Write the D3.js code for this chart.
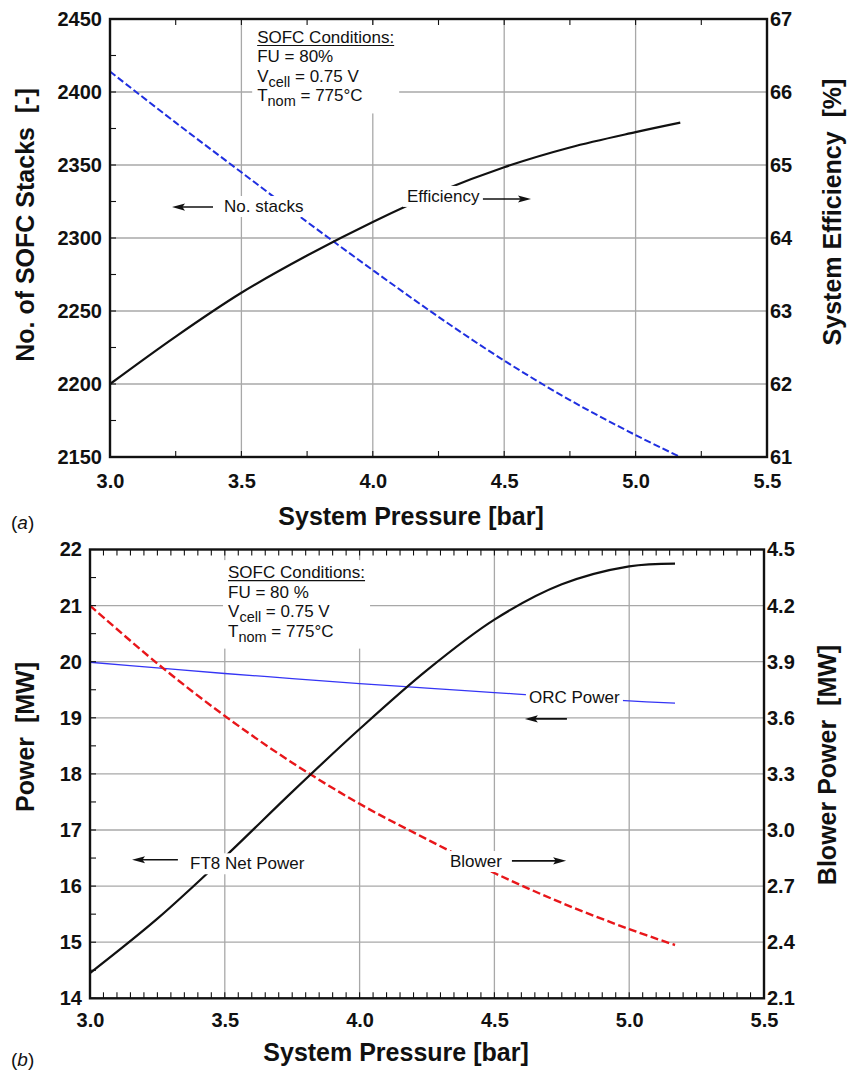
<!DOCTYPE html>
<html>
<head>
<meta charset="utf-8">
<script src="https://cdn.jsdelivr.net/npm/d3@7"></script>
<style>
  body { margin: 0; background: #fff; }
  svg { display: block; font-family: "Liberation Sans", Arial, Helvetica, sans-serif; }
</style>
</head>
<body>
<script>
// System pressure sweep [bar]
const pressure = [3.0, 3.25, 3.5, 3.75, 4.0, 4.25, 4.5, 4.75, 5.0, 5.17];

// (a) number of SOFC stacks [-] and system efficiency [%]
const stacks = [2414, 2379, 2345, 2311, 2278, 2246, 2216, 2189, 2165, 2150];
const efficiency = [62.0, 62.65, 63.25, 63.76, 64.22, 64.63, 64.97, 65.24, 65.45, 65.58];

// (b) FT8 net power and ORC power [MW] (left axis), blower power [MW] (right axis)
const ft8Power = [14.45, 15.42, 16.52, 17.68, 18.8, 19.85, 20.75, 21.38, 21.7, 21.75];
const orcPower = [19.99, 19.89, 19.79, 19.7, 19.61, 19.53, 19.45, 19.37, 19.3, 19.26];
const blowerPower = [4.2, 3.89, 3.61, 3.36, 3.14, 2.95, 2.77, 2.61, 2.47, 2.385];

// Tick labels
const pressureTicks = ["3.0", "3.5", "4.0", "4.5", "5.0", "5.5"];
const stackTicks = ["2150", "2200", "2250", "2300", "2350", "2400", "2450"];
const efficiencyTicks = ["61", "62", "63", "64", "65", "66", "67"];
const powerTicks = ["14", "15", "16", "17", "18", "19", "20", "21", "22"];
const blowerTicks = ["2.1", "2.4", "2.7", "3.0", "3.3", "3.6", "3.9", "4.2", "4.5"];

const W = 849, H = 1072;
const svg = d3.select("body").append("svg").attr("width", W).attr("height", H);

const GRID = "#a8a8a8";
const INK = "#111";

function arrow(g, x1, x2, y) {
  // shaft from x1 to the tip at x2
  const dir = Math.sign(x2 - x1);
  const head = 13, half = 3.6;
  g.append("line")
    .attr("x1", x1).attr("x2", x2 - dir * head * 0.6)
    .attr("y1", y).attr("y2", y)
    .attr("stroke", INK).attr("stroke-width", 1.6);
  g.append("path")
    .attr("d", `M${x2},${y} L${x2 - dir * head},${y - half} L${x2 - dir * head * 0.8},${y} L${x2 - dir * head},${y + half} Z`)
    .attr("fill", INK);
}

// text with a white backing box so grid lines and curves stop at it
function boxedText(g, x, y, str, pad) {
  const grp = g.append("g");
  const t = grp.append("text")
    .attr("x", x).attr("y", y)
    .attr("font-size", 17).attr("fill", INK)
    .text(str);
  const b = t.node().getBBox();
  grp.insert("rect", "text")
    .attr("x", b.x - pad).attr("y", b.y - 1)
    .attr("width", b.width + 2 * pad).attr("height", b.height + 2)
    .attr("fill", "#fff");
  return grp;
}

function conditionsBlock(g, x, y, lines) {
  const grp = g.append("g");
  const step = 19.5;
  lines.forEach((parts, i) => {
    const t = grp.append("text")
      .attr("x", x).attr("y", y + i * step)
      .attr("font-size", 17).attr("fill", INK);
    t.append("tspan").text(parts[0]);
    if (parts.length > 1) {
      t.append("tspan").attr("font-size", 14.5).attr("dy", 5).text(parts[1]);
      t.append("tspan").attr("dy", -5).text(parts[2]);
    }
    if (i === 0) {
      const len = t.node().getComputedTextLength();
      grp.append("line")
        .attr("x1", x).attr("x2", x + len)
        .attr("y1", y + 2.5).attr("y2", y + 2.5)
        .attr("stroke", INK).attr("stroke-width", 1.1);
    }
  });
  const b = grp.node().getBBox();
  grp.insert("rect", ":first-child")
    .attr("x", b.x - 5).attr("y", b.y - 3)
    .attr("width", b.width + 10).attr("height", b.height + 7)
    .attr("fill", "#fff");
}

function panel(cfg) {
  const { left, right, top, bottom } = cfg.box;
  const x = d3.scaleLinear().domain([3.0, 5.5]).range([left, right]);
  const yL = d3.scaleLinear().domain(cfg.leftDomain).range([bottom, top]);
  const yR = d3.scaleLinear().domain(cfg.rightDomain).range([bottom, top]);

  const gGrid = svg.append("g");
  const gSeries = svg.append("g");
  const gNotes = svg.append("g");
  const gAxes = svg.append("g");

  // grid
  const xt = pressureTicks.map(Number);
  const yt = cfg.leftTicks.map(Number);
  gGrid.selectAll("line.v").data(xt.slice(1, -1)).join("line")
    .attr("x1", d => x(d)).attr("x2", d => x(d))
    .attr("y1", top).attr("y2", bottom)
    .attr("stroke", GRID).attr("stroke-width", 1.3);
  gGrid.selectAll("line.h").data(yt.slice(1, -1)).join("line")
    .attr("x1", left).attr("x2", right)
    .attr("y1", d => yL(d)).attr("y2", d => yL(d))
    .attr("stroke", GRID).attr("stroke-width", 1.3);

  // series
  cfg.series.forEach(s => {
    const ys = s.axis === "right" ? yR : yL;
    const line = d3.line()
      .x((d, i) => x(pressure[i]))
      .y(d => ys(d))
      .curve(d3.curveCatmullRom.alpha(0.5));
    gSeries.append("path")
      .attr("d", line(s.values))
      .attr("fill", "none")
      .attr("stroke", s.color)
      .attr("stroke-width", s.width)
      .attr("stroke-dasharray", s.dash || null)
      .attr("stroke-linejoin", "round");
  });

  // notes
  cfg.notes(gNotes, x, yL);

  // minor ticks (inward)
  const minorX = d3.range(3.0, 5.5001, cfg.minorXStep);
  gAxes.selectAll("line.mb").data(minorX).join("line")
    .attr("x1", d => x(d)).attr("x2", d => x(d))
    .attr("y1", bottom).attr("y2", bottom - 6)
    .attr("stroke", INK).attr("stroke-width", 1.1);
  gAxes.selectAll("line.mt").data(minorX).join("line")
    .attr("x1", d => x(d)).attr("x2", d => x(d))
    .attr("y1", top).attr("y2", top + 6)
    .attr("stroke", INK).attr("stroke-width", 1.1);
  const minorY = d3.range(cfg.leftDomain[0], cfg.leftDomain[1] + 1e-6, cfg.minorYStep);
  gAxes.selectAll("line.ml").data(minorY).join("line")
    .attr("x1", left).attr("x2", left + 6)
    .attr("y1", d => yL(d)).attr("y2", d => yL(d))
    .attr("stroke", INK).attr("stroke-width", 1.1);

  // frame
  gAxes.append("rect")
    .attr("x", left).attr("y", top)
    .attr("width", right - left).attr("height", bottom - top)
    .attr("fill", "none").attr("stroke", INK).attr("stroke-width", 2.4);

  // tick labels
  const styleTicks = sel => {
    sel.select(".domain").remove();
    sel.selectAll("text")
      .attr("font-family", '"Liberation Sans", Arial, sans-serif')
      .attr("font-size", 20).attr("font-weight", "bold").attr("fill", INK);
  };
  gAxes.append("g").attr("transform", `translate(0,${bottom})`)
    .call(d3.axisBottom(x).tickValues(xt).tickFormat(d3.format(".1f")).tickSize(0).tickPadding(cfg.xPad))
    .call(styleTicks);
  gAxes.append("g").attr("transform", `translate(${left},0)`)
    .call(d3.axisLeft(yL).tickValues(yt).tickFormat(d => cfg.leftTicks[yt.indexOf(d)]).tickSize(0).tickPadding(8))
    .call(styleTicks);
  const rt = cfg.rightTicks.map(Number);
  gAxes.append("g").attr("transform", `translate(${right},0)`)
    .call(d3.axisRight(yR).tickValues(rt).tickFormat(d => cfg.rightTicks[rt.indexOf(d)]).tickSize(0).tickPadding(3))
    .call(styleTicks);

  // axis titles
  gAxes.append("text")
    .attr("x", cfg.xTitle[0]).attr("y", cfg.xTitle[1])
    .attr("text-anchor", "middle")
    .attr("font-size", 25).attr("font-weight", "bold").attr("fill", INK)
    .text("System Pressure [bar]");
  [[cfg.leftTitle, cfg.leftTitlePos], [cfg.rightTitle, cfg.rightTitlePos]].forEach(([txt, pos]) => {
    gAxes.append("text")
      .attr("transform", `translate(${pos[0]},${pos[1]}) rotate(-90)`)
      .attr("text-anchor", "middle").attr("dy", "0.36em")
      .attr("font-size", 25).attr("font-weight", "bold").attr("fill", INK)
      .attr("xml:space", "preserve")
      .text(txt);
  });

  // panel tag
  const tag = gAxes.append("text")
    .attr("x", 11).attr("y", cfg.tagY)
    .attr("font-size", 19).attr("fill", INK);
  tag.append("tspan").text("(");
  tag.append("tspan").attr("font-style", "italic").text(cfg.tag);
  tag.append("tspan").text(")");
}

// (a) stacks and efficiency
panel({
  box: { left: 110, right: 767, top: 19, bottom: 457 },
  leftDomain: [2150, 2450], rightDomain: [61, 67],
  leftTicks: stackTicks, rightTicks: efficiencyTicks,
  minorXStep: 0.25, minorYStep: 25,
  xPad: 17,
  series: [
    { values: stacks, axis: "left", color: "#1f2fe0", width: 2, dash: "7,3" },
    { values: efficiency, axis: "right", color: "#111", width: 2.2 }
  ],
  xTitle: [411, 525],
  leftTitle: "No. of SOFC Stacks  [-]", leftTitlePos: [25, 225],
  rightTitle: "System Efficiency  [%]", rightTitlePos: [832, 212],
  tag: "a", tagY: 529,
  notes: (g, x, y) => {
    conditionsBlock(g, x(3.56), y(2433.6), [
      ["SOFC Conditions:"], ["FU = 80%"], ["V", "cell", " = 0.75 V"], ["T", "nom", " = 775°C"]
    ]);
    boxedText(g, x(3.434), y(2317.8), "No. stacks", 3);
    arrow(g, x(3.392), x(3.236), y(2321.2));
    boxedText(g, x(4.13), y(2324.7), "Efficiency", 4);
    arrow(g, x(4.419), x(4.602), y(2326.7));
  }
});

// (b) power balance
panel({
  box: { left: 90, right: 764, top: 549.5, bottom: 998.3 },
  leftDomain: [14, 22], rightDomain: [2.1, 4.5],
  leftTicks: powerTicks, rightTicks: blowerTicks,
  minorXStep: 0.05, minorYStep: 0.5,
  xPad: 15,
  series: [
    { values: orcPower, axis: "left", color: "#3535f5", width: 1.3 },
    { values: blowerPower, axis: "right", color: "#e8161a", width: 2.4, dash: "8,3.5" },
    { values: ft8Power, axis: "left", color: "#111", width: 2.2 }
  ],
  xTitle: [396, 1061],
  leftTitle: "Power  [MW]", leftTitlePos: [25, 737],
  rightTitle: "Blower Power  [MW]", rightTitlePos: [827, 765],
  tag: "b", tagY: 1066,
  notes: (g, x, y) => {
    conditionsBlock(g, x(3.512), y(21.49), [
      ["SOFC Conditions:"], ["FU = 80 %"], ["V", "cell", " = 0.75 V"], ["T", "nom", " = 775°C"]
    ]);
    boxedText(g, x(3.371), y(16.30), "FT8 Net Power", 4);
    arrow(g, x(3.326), x(3.156), y(16.47));
    boxedText(g, x(4.335), y(16.34), "Blower", 4);
    arrow(g, x(4.565), x(4.766), y(16.45));
    boxedText(g, x(4.628), y(19.27), "ORC Power", 3);
    arrow(g, x(4.769), x(4.613), y(18.98));
  }
});
</script>
</body>
</html>
